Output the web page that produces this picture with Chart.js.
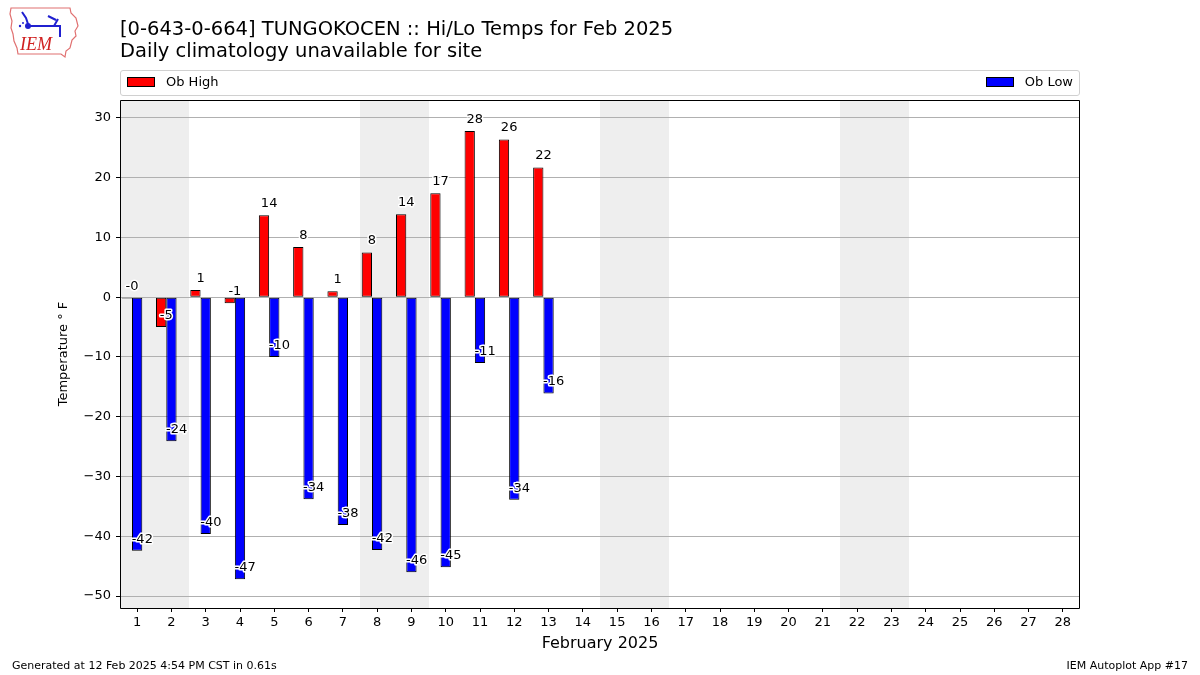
<!DOCTYPE html>
<html>
<head>
<meta charset="utf-8">
<script src="https://cdn.jsdelivr.net/npm/chart.js@4.4.1/dist/chart.umd.min.js"></script>
<style>
  body { margin: 0; background: #fff; font-family: "DejaVu Sans", sans-serif; }
  #wrap { position: relative; width: 1200px; height: 675px; overflow: hidden; }
  #chart { position: absolute; left: 0; top: 0; }
  .title { position: absolute; left: 120px; font-size: 19.5px; color: #000; white-space: nowrap; }
  #legend { position: absolute; left: 120px; top: 70px; width: 958px; height: 24px;
            border: 1px solid #d0d0d0; border-radius: 3px; font-size: 13px; }
  .item { position: absolute; top: 3px; display: flex; align-items: center; }
  .swatch { width: 26px; height: 8px; border: 1px solid #000; margin-right: 11px; }
  .foot { position: absolute; top: 659px; font-size: 11px; color: #000; white-space: nowrap; }
  #logo { position: absolute; left: 8px; top: 4px; }
</style>
</head>
<body>
<div id="wrap">
  <canvas id="chart" width="1200" height="675"></canvas>
  <svg id="logo" width="74" height="56" viewBox="0 0 74 56">
    <path d="M3 4 L62 4 L63 9 L68 14 L70 22 L67 27 L68 32 L64 36 L62 44 L58 47 L57 53 L53 50 L10 50 L9 44 L6 37 L5 30 L3 24 L4 17 L2 10 Z"
          fill="none" stroke="#e07070" stroke-width="1.2"/>
    <path d="M14 8 L18 14 L20 20 M20 22 L46 22 L50 15 M44 22 L52 22 L52 33 M40 12 L48 16" fill="none" stroke="#2020d0" stroke-width="2"/>
    <circle cx="20" cy="22" r="3" fill="#2020d0"/>
    <circle cx="12" cy="22" r="1.2" fill="#2020d0"/>
    <circle cx="15" cy="19" r="1" fill="#2020d0"/>
    <text x="12" y="46" font-family="Liberation Serif, serif" font-style="italic" font-size="18" fill="#d02020">IEM</text>
  </svg>
  <div class="title" style="top:17px">[0-643-0-664] TUNGOKOCEN :: Hi/Lo Temps for Feb 2025</div>
  <div class="title" style="top:39px">Daily climatology unavailable for site</div>
  <div id="legend">
    <div class="item" style="left:6px"><div class="swatch" style="background:#ff0000"></div>Ob High</div>
    <div class="item" style="right:6px"><div class="swatch" style="background:#0000ff"></div>Ob Low</div>
  </div>
  <div class="foot" style="left:12px">Generated at 12 Feb 2025 4:54 PM CST in 0.61s</div>
  <div class="foot" style="right:12px">IEM Autoplot App #17</div>
</div>
<script>
// --- Data ---
const days = Array.from({ length: 28 }, (_, i) => String(i + 1));
const obHigh = [-0.2, -5.0, 1.2, -1.0, 13.7, 8.4, 1.0, 7.5, 13.9, 17.4, 27.8, 26.4, 21.7];
const obLow = [-42.4, -24.1, -39.6, -47.2, -10.0, -33.8, -38.1, -42.3, -46.0, -45.2, -11.0, -33.9, -16.1];
const weekendDays = [1, 2, 8, 9, 15, 16, 22, 23];
const yTicks = [-50, -40, -30, -20, -10, 0, 10, 20, 30];

// shade weekends behind the grid (consecutive days merged into one block)
const weekendShade = {
    id: 'weekendShade',
    beforeDraw(chart) {
        const { ctx, chartArea, scales } = chart;
        ctx.save();
        ctx.fillStyle = '#fff';
        ctx.fillRect(0, 0, chart.width, chart.height);
        ctx.fillStyle = '#eeeeee';
        const half = (scales.x.getPixelForValue(1) - scales.x.getPixelForValue(0)) / 2;
        let start = null;
        weekendDays.forEach((d, i) => {
            if (start === null) start = d;
            const next = weekendDays[i + 1];
            if (next !== d + 1) {
                const x0 = Math.round(scales.x.getPixelForValue(start - 1) - half);
                const x1 = Math.round(scales.x.getPixelForValue(d - 1) + half);
                ctx.fillRect(x0, chartArea.top, x1 - x0, chartArea.bottom - chartArea.top);
                start = null;
            }
        });
        ctx.restore();
    }
};

// value labels + plot frame
const barLabels = {
    id: 'barLabels',
    afterDatasetsDraw(chart) {
        const { ctx, chartArea } = chart;
        ctx.save();
        ctx.font = '13px "DejaVu Sans"';
        ctx.textAlign = 'center';
        ctx.textBaseline = 'bottom';
        ctx.lineJoin = 'round';
        [0, 1].forEach(i => {
            const meta = chart.getDatasetMeta(i);
            const vals = chart.data.datasets[i].data;
            meta.data.forEach((bar, j) => {
                if (vals[j] == null) return;
                const txt = vals[j].toFixed(0);
                const x = bar.x + bar.width / 2;
                const y = bar.y - 5;
                ctx.strokeStyle = '#fff';
                ctx.lineWidth = 3;
                ctx.strokeText(txt, x, y);
                ctx.fillStyle = '#000';
                ctx.fillText(txt, x, y);
            });
        });
        ctx.strokeStyle = '#000';
        ctx.lineWidth = 1;
        ctx.strokeRect(chartArea.left + 0.5, chartArea.top + 0.5,
            chartArea.right - chartArea.left - 1, chartArea.bottom - chartArea.top);
        ctx.restore();
    }
};

new Chart(document.getElementById('chart'), {
    type: 'bar',
    data: {
        labels: days,
        datasets: [
            { label: 'Ob High', data: obHigh, backgroundColor: '#ff0000', borderColor: '#000', borderWidth: 1, borderSkipped: false },
            { label: 'Ob Low', data: obLow, backgroundColor: '#0000ff', borderColor: '#000', borderWidth: 1, borderSkipped: false },
            { label: '', data: [], backgroundColor: 'rgba(0,0,0,0)' }
        ]
    },
    options: {
        responsive: false,
        animation: false,
        events: [],
        datasets: { bar: { categoryPercentage: 0.9, barPercentage: 1.0 } },
        layout: { padding: { top: 100, right: 120, left: 52, bottom: 16 } },
        plugins: { legend: { display: false }, tooltip: { enabled: false } },
        scales: {
            x: {
                offset: true,
                grid: { display: true, offset: false, drawOnChartArea: false, tickLength: 4, tickColor: '#000' },
                border: { display: false },
                ticks: { color: '#000', font: { family: 'DejaVu Sans', size: 13 }, padding: 3, maxRotation: 0, autoSkip: false },
                title: { display: true, text: 'February 2025', color: '#000', font: { family: 'DejaVu Sans', size: 16 }, padding: { top: 4, bottom: 6 } },
                afterFit: s => { s.height = 51; }
            },
            y: {
                min: -52.0,
                max: 33.0,
                afterBuildTicks: s => { s.ticks = yTicks.map(v => ({ value: v })); },
                grid: { color: '#b0b0b0', tickLength: 4, tickColor: '#000' },
                border: { display: false },
                ticks: {
                    color: '#000', font: { family: 'DejaVu Sans', size: 13 }, padding: 5,
                    callback: v => String(v).replace('-', '\u2212')
                },
                title: { display: true, text: 'Temperature \u00B0 F', color: '#000', font: { family: 'DejaVu Sans', size: 13 }, padding: { top: 4, bottom: 4 } },
                afterFit: s => { s.width = 68; }
            }
        }
    },
    plugins: [weekendShade, barLabels]
});
</script>
</body>
</html>
